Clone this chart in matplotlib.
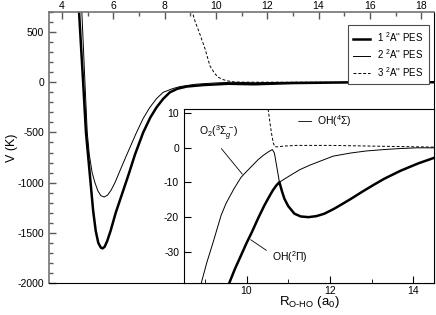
import matplotlib
matplotlib.use("Agg")
import matplotlib.pyplot as plt
from matplotlib.ticker import MultipleLocator

plt.rcParams['font.family'] = ['Liberation Sans', 'DejaVu Sans']
plt.rcParams['mathtext.fontset'] = 'custom'
plt.rcParams['mathtext.rm'] = 'Liberation Sans'
plt.rcParams['mathtext.it'] = 'Liberation Sans:italic'
plt.rcParams['mathtext.sf'] = 'Liberation Sans'
plt.rcParams['axes.unicode_minus'] = False

# main panel, V in K against R in a0
x_pes1 = [4.66, 4.75, 4.83, 4.94, 5.03, 5.12, 5.22, 5.32, 5.42, 5.52, 5.59, 5.67, 5.77, 5.9,
          6.1, 6.35, 6.6, 6.85, 7.17, 7.45, 7.69, 7.95, 8.21, 8.5, 8.86, 9.5, 10.5, 11.5, 13.0, 15.0, 18.5]
y_pes1 = [750, 350, 0, -500, -750, -1000, -1280, -1480, -1600, -1648, -1655, -1638, -1580, -1480,
          -1300, -1110, -920, -720, -500, -350, -250, -165, -100, -65, -43, -28, -15, -20, -8, -2, 0]

x_pes2 = [4.77, 4.84, 4.9, 4.99, 5.07, 5.18, 5.29, 5.4, 5.52, 5.65, 5.78, 5.92, 6.07, 6.3, 6.5,
          6.91, 7.17, 7.43, 7.7, 7.95, 8.3, 8.6, 9.2, 9.9, 10.6, 11.5, 12.5, 18.5]
y_pes2 = [750, 350, 0, -500, -720, -900, -1000, -1080, -1130, -1143, -1125, -1075, -1000, -860, -740,
          -500, -360, -250, -160, -100, -65, -43, -20, -8, 0, -5, -1, 0]

x_pes3 = [9.06, 9.2, 9.35, 9.58, 9.77, 9.95, 10.09, 10.3, 10.47, 10.7, 11.0, 12.0, 18.5]
y_pes3 = [720, 600, 500, 333, 163, 90, 50, 25, 13, 3, 1, 0.5, 0]

# inset, zoom on the crossing region
xi_pes1 = [9.5, 9.58, 9.72, 9.87, 10.0, 10.13, 10.28, 10.43, 10.53, 10.63, 10.72, 10.79, 10.85, 10.91,
           11.0, 11.15, 11.3, 11.49, 11.68, 11.87, 12.1, 12.3, 12.51, 12.8, 13.05, 13.31, 13.7, 14.12, 14.5]
yi_pes1 = [-42, -39.2, -35, -31, -27.5, -24.3, -20.3, -16.6, -14.4, -12.3, -10.8, -9.9, -12.5, -14.7,
           -16.8, -19, -19.8, -20, -19.7, -19.0, -17.6, -16.2, -14.7, -12.5, -10.7, -8.9, -6.6, -4.5, -2.9]

xi_pes2 = [8.85, 8.91, 9.05, 9.2, 9.39, 9.51, 9.7, 9.87, 10.02, 10.15, 10.28, 10.4, 10.52, 10.62, 10.67,
           10.72, 10.79, 10.95, 11.1, 11.28, 11.52, 11.8, 12.08, 12.5, 12.88, 13.3, 13.69, 14.1, 14.5]
yi_pes2 = [-44, -39.2, -33, -27.2, -19.5, -16, -11.8, -8.5, -6.6, -5.0, -3.4, -2.2, -1.2, -0.5, -1.5,
           -5, -9.9, -8.7, -7.6, -6.3, -5.0, -3.7, -2.4, -1.5, -0.9, -0.5, -0.2, 0, 0]

xi_pes3 = [10.5, 10.52, 10.56, 10.6, 10.64, 10.68, 10.75, 10.9, 11.2, 12.0, 13.0, 14.5]
yi_pes3 = [14, 11.1, 7.5, 4.2, 1.5, 0.3, 0.3, 0.5, 0.7, 0.7, 0.5, 0.2]

labels = ["1 $^2$A'' PES", "2 $^2$A'' PES", "3 $^2$A'' PES"]

fig = plt.figure(figsize=(4.36, 3.15), dpi=100)
ax = fig.add_axes([49/436, 32/315, 385/436, 271/315])

ax.plot(x_pes1, y_pes1, 'k-', lw=1.8, label=labels[0])
ax.plot(x_pes2, y_pes2, 'k-', lw=0.7, label=labels[1])
ax.plot(x_pes3, y_pes3, 'k--', lw=0.7, dashes=(3, 2), label=labels[2])

ax.set_xlim(3.5, 18.5)
ax.set_ylim(-2000, 700)
ax.xaxis.tick_top()
ax.xaxis.set_major_locator(MultipleLocator(2))
ax.xaxis.set_minor_locator(MultipleLocator(1))
ax.yaxis.set_major_locator(MultipleLocator(500))
ax.yaxis.set_minor_locator(MultipleLocator(100))
ax.tick_params(which='both', direction='in', labelsize=7.5, colors='0.35', labelcolor='k')
ax.tick_params(which='major', length=5, width=1)
ax.tick_params(which='minor', length=3, width=1)
ax.tick_params(axis='x', pad=1)
for s in ['left', 'top']:
    ax.spines[s].set_color('0.45')
    ax.spines[s].set_linewidth(1.2)
ax.set_ylabel("V (K)", fontsize=9, labelpad=0)

leg = ax.legend(loc='upper right', bbox_to_anchor=(0.987, 0.952), borderaxespad=0, fontsize=7,
                handlelength=1.7, handletextpad=0.8, fancybox=False, edgecolor='0.3', framealpha=1,
                borderpad=0.55, labelspacing=0.35)
leg.get_frame().set_linewidth(0.8)

ins = fig.add_axes([184/436, 32/315, 250/436, 174/315])
ins.plot(xi_pes1, yi_pes1, 'k-', lw=1.8)
ins.plot(xi_pes2, yi_pes2, 'k-', lw=0.7)
ins.plot(xi_pes3, yi_pes3, 'k--', lw=0.7, dashes=(3, 2))
ins.set_xlim(8.5, 14.5)
ins.set_ylim(-39, 11.2)
ins.xaxis.set_major_locator(MultipleLocator(2))
ins.xaxis.set_minor_locator(MultipleLocator(1))
ins.yaxis.set_major_locator(MultipleLocator(10))
ins.tick_params(which='both', direction='in', labelsize=7.5)
ins.tick_params(which='major', length=5)
ins.tick_params(which='minor', length=3)
ins.tick_params(axis='x', pad=2)
ins.set_xlabel(r"R$_{\mathrm{O\text{-}HO}}$ (a$_0$)", fontsize=9.5, labelpad=-1)

ins.annotate(r"O$_2$($^3\Sigma_g^{\,-}$)", xy=(9.9, -7.6), xytext=(8.85, 4.3),
             fontsize=7.5, ha='left', va='center',
             arrowprops=dict(arrowstyle='-', lw=0.6, shrinkA=3, shrinkB=0, relpos=(0.45, 0)))
ins.annotate(r"OH($^4\Sigma$)", xy=(11.25, 7.6), xytext=(11.7, 7.6),
             fontsize=7.5, ha='left', va='center',
             arrowprops=dict(arrowstyle='-', lw=0.6, shrinkA=2, shrinkB=0, relpos=(0, 0.5)))
ins.annotate(r"OH($^2\Pi$)", xy=(10.1, -26.5), xytext=(10.6, -31.5),
             fontsize=7.5, ha='left', va='center',
             arrowprops=dict(arrowstyle='-', lw=0.6, shrinkA=2, shrinkB=0, relpos=(0, 0.7)))

fig.savefig("out.png", dpi=100)
